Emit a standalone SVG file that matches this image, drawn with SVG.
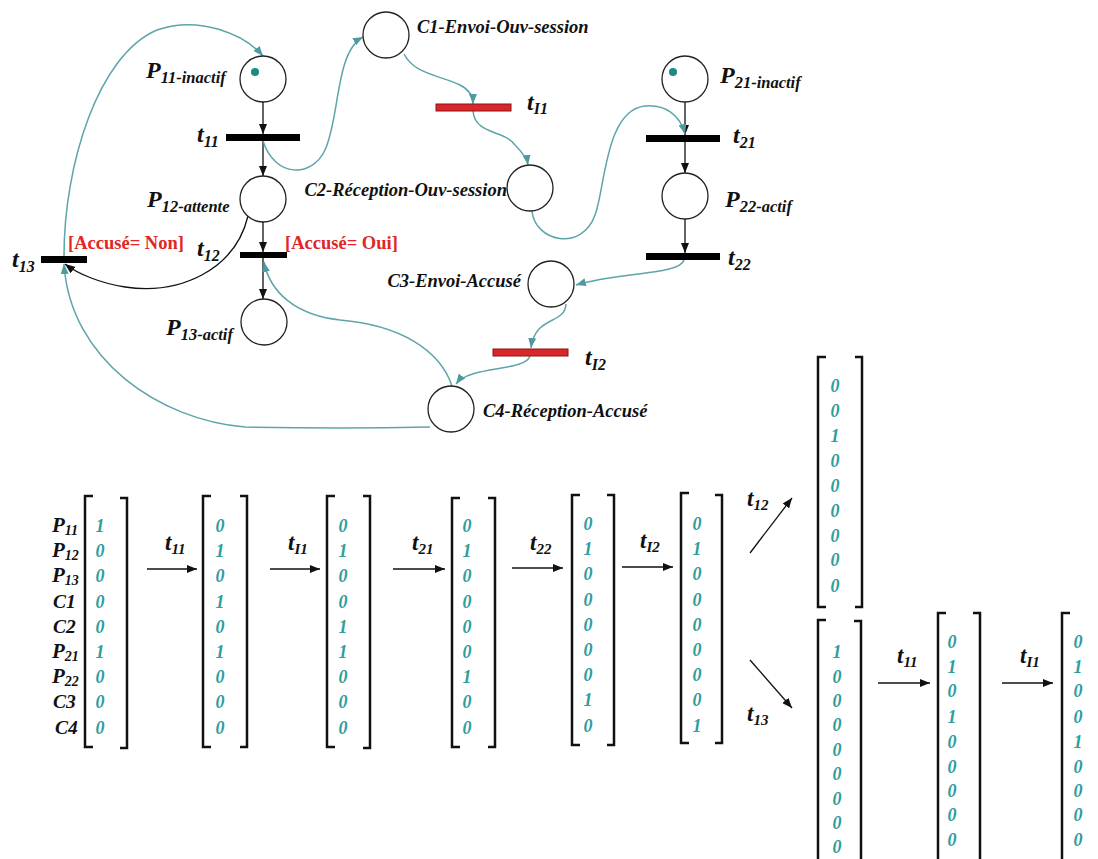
<svg xmlns="http://www.w3.org/2000/svg" width="1098" height="859" viewBox="0 0 1098 859">
<style>
.pl{fill:#fff;stroke:#222;stroke-width:1.3}
.tb{fill:#000}
.tr{fill:#d8262a;stroke:#8c1414;stroke-width:1}
.arc{fill:none;stroke:#111;stroke-width:1.3;marker-end:url(#ab)}
.tarc{fill:none;stroke:#5ea4ab;stroke-width:1.5;marker-end:url(#at)}
.lbl{font-family:"Liberation Serif","DejaVu Serif",serif;font-weight:bold;font-style:italic;fill:#111}
.cl{font-family:"Liberation Serif","DejaVu Serif",serif;font-weight:bold;font-style:italic;fill:#111;font-size:18.5px}
.guard{font-family:"Liberation Serif","DejaVu Serif",serif;font-weight:bold;fill:#e02626;font-size:18.5px}
.dig{font-family:"Liberation Serif","DejaVu Serif",serif;font-weight:bold;font-style:italic;fill:#2e9d9d;font-size:18px;text-anchor:middle}
.br{fill:none;stroke:#111;stroke-width:2.5}
.tok{fill:#1b8a80}
</style>
<defs>
<marker id="ab" markerWidth="10" markerHeight="8" refX="10" refY="4" orient="auto" markerUnits="userSpaceOnUse"><path d="M0,0 L10,4 L0,8 z" fill="#111"/></marker>
<marker id="at" markerWidth="10" markerHeight="8" refX="10" refY="4" orient="auto" markerUnits="userSpaceOnUse"><path d="M0,0 L10,4 L0,8 z" fill="#4f9aa2"/></marker>
</defs>

<g id="connectors">
<line class="arc" x1="263" y1="102" x2="263" y2="134"/>
<line class="arc" x1="263" y1="141" x2="263" y2="176"/>
<line class="arc" x1="263" y1="222" x2="263" y2="252"/>
<line class="arc" x1="263" y1="258" x2="263" y2="299"/>
<line class="arc" x1="685" y1="102" x2="685" y2="135"/>
<line class="arc" x1="685" y1="142" x2="685" y2="173"/>
<line class="arc" x1="685" y1="219" x2="685" y2="253"/>
<path class="arc" d="M248 216 C235 270,180 295,125 287 C100 283,78 274,65 264"/>
<path class="tarc" d="M64 256 C64 165,98 55,157 30 C200 15,245 35,263 56"/>
<path class="tarc" d="M430 427 C380 428,300 428,245 427 C160 420,70 360,64 264"/>
<path class="tarc" d="M452 386 C440 350,400 325,340 320 C295 315,270 292,264 262"/>
<path class="tarc" d="M263 141 C275 178,312 178,325 150 C340 118,335 52,363 37"/>
<path class="tarc" d="M404 54 C415 75,440 75,460 85 C470 90,473 96,473 104"/>
<path class="tarc" d="M473 111 C475 135,505 130,515 145 C522 152,527 158,528 165"/>
<path class="tarc" d="M532 211 C535 242,582 252,595 215 C605 190,605 110,645 106 C665 104,680 115,685 134"/>
<path class="tarc" d="M684 260 C680 275,620 272,576 285"/>
<path class="tarc" d="M566 304 C565 325,535 315,531 348"/>
<path class="tarc" d="M530 356 C525 372,470 365,456 384"/>
<line class="arc" x1="147" y1="569" x2="197" y2="569"/>
<line class="arc" x1="270" y1="569" x2="320" y2="569"/>
<line class="arc" x1="393" y1="569" x2="445" y2="569"/>
<line class="arc" x1="512" y1="568" x2="563" y2="568"/>
<line class="arc" x1="622" y1="567" x2="673" y2="567"/>
<line class="arc" x1="750" y1="553" x2="792" y2="498"/>
<line class="arc" x1="750" y1="660" x2="792" y2="708"/>
<line class="arc" x1="878" y1="683" x2="930" y2="683"/>
<line class="arc" x1="1002" y1="683" x2="1053" y2="683"/>
</g>

<g id="P11"><circle class="pl" cx="263" cy="79" r="23"/><circle class="tok" cx="255" cy="72" r="4"/>
<text class="lbl" x="146" y="78"><tspan font-size="24">P</tspan><tspan font-size="16.5" dy="5">11-inactif</tspan></text></g>
<g id="t11"><rect class="tb" x="226" y="134" width="74" height="7"/>
<text class="lbl" x="197" y="142"><tspan font-size="24">t</tspan><tspan font-size="16" dy="5">11</tspan></text></g>
<g id="P12"><circle class="pl" cx="263" cy="199" r="23"/>
<text class="lbl" x="147" y="207"><tspan font-size="24">P</tspan><tspan font-size="16.5" dy="5">12-attente</tspan></text></g>
<g id="t12"><rect class="tb" x="240" y="252" width="47" height="6"/>
<text class="lbl" x="197" y="256"><tspan font-size="24">t</tspan><tspan font-size="16" dy="5">12</tspan></text>
<text class="guard" x="285" y="249">[Accusé= Oui]</text></g>
<g id="P13"><circle class="pl" cx="264" cy="322" r="23"/>
<text class="lbl" x="166" y="335"><tspan font-size="24">P</tspan><tspan font-size="16.5" dy="5">13-actif</tspan></text></g>
<g id="t13"><rect class="tb" x="41" y="256" width="46" height="7"/>
<text class="lbl" x="12" y="267"><tspan font-size="24">t</tspan><tspan font-size="16" dy="5">13</tspan></text>
<text class="guard" x="68" y="249">[Accusé= Non]</text></g>
<g id="C1"><circle class="pl" cx="386" cy="35" r="23"/>
<text class="cl" x="417" y="33">C1-Envoi-Ouv-session</text></g>
<g id="tI1"><rect class="tr" x="436" y="104" width="75" height="7"/>
<text class="lbl" x="527" y="110"><tspan font-size="24">t</tspan><tspan font-size="16" dy="4">I1</tspan></text></g>
<g id="C2"><circle class="pl" cx="530" cy="188" r="23"/>
<text class="cl" x="507" y="196" text-anchor="end">C2-Réception-Ouv-session</text></g>
<g id="P21"><circle class="pl" cx="685" cy="79" r="23"/><circle class="tok" cx="673" cy="72" r="4"/>
<text class="lbl" x="720" y="83"><tspan font-size="24">P</tspan><tspan font-size="16.5" dy="5">21-inactif</tspan></text></g>
<g id="t21"><rect class="tb" x="646" y="135" width="74" height="7"/>
<text class="lbl" x="733" y="143"><tspan font-size="24">t</tspan><tspan font-size="16" dy="5">21</tspan></text></g>
<g id="P22"><circle class="pl" cx="685" cy="196" r="23"/>
<text class="lbl" x="725" y="207"><tspan font-size="24">P</tspan><tspan font-size="16.5" dy="5">22-actif</tspan></text></g>
<g id="t22"><rect class="tb" x="646" y="253" width="74" height="7"/>
<text class="lbl" x="728" y="265"><tspan font-size="24">t</tspan><tspan font-size="16" dy="5">22</tspan></text></g>
<g id="C3"><circle class="pl" cx="551" cy="284" r="23"/>
<text class="cl" x="521" y="287" text-anchor="end">C3-Envoi-Accusé</text></g>
<g id="tI2"><rect class="tr" x="493" y="349" width="75" height="7"/>
<text class="lbl" x="585" y="365"><tspan font-size="24">t</tspan><tspan font-size="16" dy="5">I2</tspan></text></g>
<g id="C4"><circle class="pl" cx="451" cy="409" r="23"/>
<text class="cl" x="483" y="417">C4-Réception-Accusé</text></g>

<g id="row-labels" class="lbl">
<text x="52" y="532"><tspan font-size="21">P</tspan><tspan font-size="14" dy="3">11</tspan></text>
<text x="52" y="557"><tspan font-size="21">P</tspan><tspan font-size="14" dy="3">12</tspan></text>
<text x="52" y="582"><tspan font-size="21">P</tspan><tspan font-size="14" dy="3">13</tspan></text>
<text x="53" y="608" font-size="19.5">C1</text>
<text x="53" y="633" font-size="19.5">C2</text>
<text x="52" y="658"><tspan font-size="21">P</tspan><tspan font-size="14" dy="3">21</tspan></text>
<text x="52" y="683"><tspan font-size="21">P</tspan><tspan font-size="14" dy="3">22</tspan></text>
<text x="53" y="708" font-size="19.5">C3</text>
<text x="55" y="734" font-size="19.5">C4</text>
</g>

<g id="arrow-labels" class="lbl">
<text x="165" y="550"><tspan font-size="23">t</tspan><tspan font-size="15" dy="4">11</tspan></text>
<text x="288" y="550"><tspan font-size="23">t</tspan><tspan font-size="15" dy="4">I1</tspan></text>
<text x="412" y="550"><tspan font-size="23">t</tspan><tspan font-size="15" dy="4">21</tspan></text>
<text x="530" y="550"><tspan font-size="23">t</tspan><tspan font-size="15" dy="4">22</tspan></text>
<text x="640" y="548"><tspan font-size="23">t</tspan><tspan font-size="15" dy="4">I2</tspan></text>
<text x="747" y="506"><tspan font-size="23">t</tspan><tspan font-size="15" dy="4">12</tspan></text>
<text x="747" y="721"><tspan font-size="23">t</tspan><tspan font-size="15" dy="4">13</tspan></text>
<text x="897" y="663"><tspan font-size="23">t</tspan><tspan font-size="15" dy="4">11</tspan></text>
<text x="1020" y="663"><tspan font-size="23">t</tspan><tspan font-size="15" dy="4">I1</tspan></text>
</g>

<g id="M1"><path class="br" d="M93 496 H85 V747 H93 M120 498 H127 V748 H120"/>
<text class="dig" x="100" y="532">1</text><text class="dig" x="100" y="557">0</text><text class="dig" x="100" y="582">0</text><text class="dig" x="100" y="608">0</text><text class="dig" x="100" y="633">0</text><text class="dig" x="100" y="658">1</text><text class="dig" x="100" y="683">0</text><text class="dig" x="100" y="708">0</text><text class="dig" x="100" y="734">0</text></g>
<g id="M2"><path class="br" d="M211 496 H203 V747 H211 M240 496 H247 V747 H240"/>
<text class="dig" x="220" y="532">0</text><text class="dig" x="220" y="557">1</text><text class="dig" x="220" y="582">0</text><text class="dig" x="220" y="608">1</text><text class="dig" x="220" y="633">0</text><text class="dig" x="220" y="658">1</text><text class="dig" x="220" y="683">0</text><text class="dig" x="220" y="708">0</text><text class="dig" x="220" y="734">0</text></g>
<g id="M3"><path class="br" d="M335 496 H327 V747 H335 M363 496 H370 V748 H363"/>
<text class="dig" x="343" y="532">0</text><text class="dig" x="343" y="557">1</text><text class="dig" x="343" y="582">0</text><text class="dig" x="343" y="608">0</text><text class="dig" x="343" y="633">1</text><text class="dig" x="343" y="658">1</text><text class="dig" x="343" y="683">0</text><text class="dig" x="343" y="708">0</text><text class="dig" x="343" y="734">0</text></g>
<g id="M4"><path class="br" d="M460 498 H452 V747 H460 M488 498 H495 V747 H488"/>
<text class="dig" x="467" y="532">0</text><text class="dig" x="467" y="557">1</text><text class="dig" x="467" y="582">0</text><text class="dig" x="467" y="608">0</text><text class="dig" x="467" y="633">0</text><text class="dig" x="467" y="658">0</text><text class="dig" x="467" y="683">1</text><text class="dig" x="467" y="708">0</text><text class="dig" x="467" y="734">0</text></g>
<g id="M5"><path class="br" d="M580 495 H572 V745 H580 M607 495 H614 V745 H607"/>
<text class="dig" x="588" y="530">0</text><text class="dig" x="588" y="555">1</text><text class="dig" x="588" y="580">0</text><text class="dig" x="588" y="606">0</text><text class="dig" x="588" y="631">0</text><text class="dig" x="588" y="656">0</text><text class="dig" x="588" y="681">0</text><text class="dig" x="588" y="706">1</text><text class="dig" x="588" y="732">0</text></g>
<g id="M6"><path class="br" d="M689 493 H681 V743 H689 M715 495 H722 V743 H715"/>
<text class="dig" x="697" y="530">0</text><text class="dig" x="697" y="555">1</text><text class="dig" x="697" y="580">0</text><text class="dig" x="697" y="606">0</text><text class="dig" x="697" y="631">0</text><text class="dig" x="697" y="656">0</text><text class="dig" x="697" y="681">0</text><text class="dig" x="697" y="706">0</text><text class="dig" x="697" y="732">1</text></g>
<g id="M7"><path class="br" d="M826 357 H818 V607 H826 M855 357 H862 V607 H855"/>
<text class="dig" x="835" y="392">0</text><text class="dig" x="835" y="417">0</text><text class="dig" x="835" y="442">1</text><text class="dig" x="835" y="467">0</text><text class="dig" x="835" y="492">0</text><text class="dig" x="835" y="517">0</text><text class="dig" x="835" y="542">0</text><text class="dig" x="835" y="566">0</text><text class="dig" x="835" y="592">0</text></g>
<g id="M8"><path class="br" d="M826 620 H818 V870 M854 621 H861 V870"/>
<text class="dig" x="837" y="658">1</text><text class="dig" x="837" y="683">0</text><text class="dig" x="837" y="707">0</text><text class="dig" x="837" y="731">0</text><text class="dig" x="837" y="756">0</text><text class="dig" x="837" y="780">0</text><text class="dig" x="837" y="805">0</text><text class="dig" x="837" y="829">0</text><text class="dig" x="837" y="853">0</text></g>
<g id="M9"><path class="br" d="M946 613 H938 V870 M973 613 H980 V870"/>
<text class="dig" x="952" y="648">0</text><text class="dig" x="952" y="673">1</text><text class="dig" x="952" y="697">0</text><text class="dig" x="952" y="723">1</text><text class="dig" x="952" y="748">0</text><text class="dig" x="952" y="773">0</text><text class="dig" x="952" y="797">0</text><text class="dig" x="952" y="821">0</text><text class="dig" x="952" y="846">0</text></g>
<g id="M10"><path class="br" d="M1070 613 H1062 V870"/>
<text class="dig" x="1078" y="648">0</text><text class="dig" x="1078" y="673">1</text><text class="dig" x="1078" y="697">0</text><text class="dig" x="1078" y="723">0</text><text class="dig" x="1078" y="748">1</text><text class="dig" x="1078" y="773">0</text><text class="dig" x="1078" y="797">0</text><text class="dig" x="1078" y="821">0</text><text class="dig" x="1078" y="846">0</text></g>
</svg>
